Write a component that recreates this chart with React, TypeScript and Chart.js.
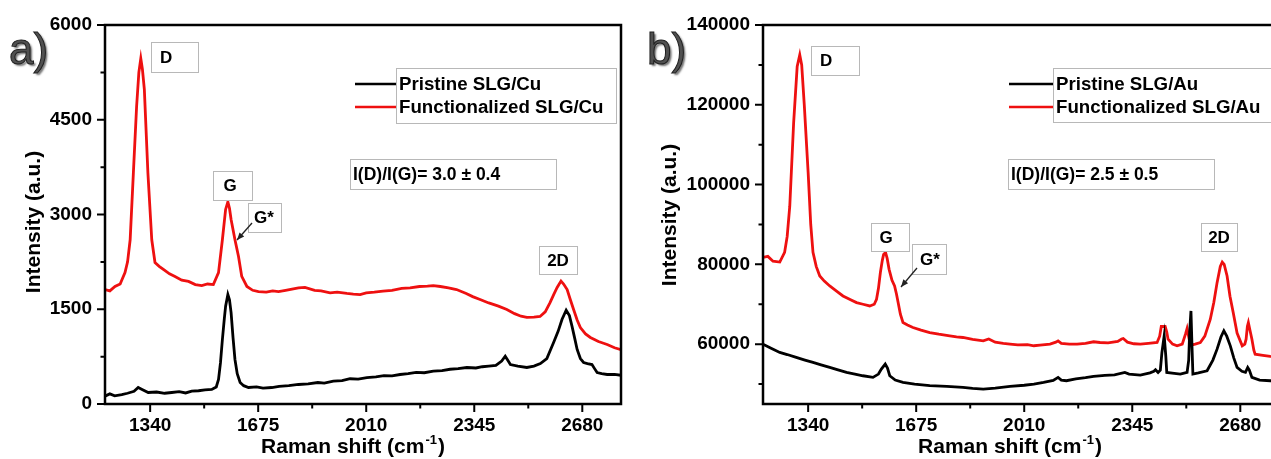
import React, { useEffect, useRef } from "react";
import { Chart, registerables } from "chart.js";

Chart.register(...registerables);

const FONT = '"Liberation Sans", Arial, "DejaVu Sans", sans-serif';

// ---------- tick values ----------
const xTickValues = [1340, 1675, 2010, 2345, 2680];
const xMinorValues = [1507.5, 1842.5, 2177.5, 2512.5];
const aYTickValues = [0, 1500, 3000, 4500, 6000];
const aYMinorValues = [750, 2250, 3750, 5250];
const bYTickValues = [60000, 80000, 100000, 120000, 140000];
const bYMinorValues = [50000, 70000, 90000, 110000, 130000];

// ---------- panel a: SLG/Cu ----------
const aRedX = [1200, 1215, 1231, 1247, 1262, 1270, 1278, 1288, 1298, 1305, 1311, 1316, 1322, 1333, 1345, 1355, 1368, 1381, 1400, 1417, 1438, 1459, 1480, 1500, 1518, 1536, 1552, 1564, 1574, 1581, 1586, 1591, 1603, 1614, 1624, 1640, 1658, 1676, 1700, 1720, 1738, 1760, 1780, 1800, 1820, 1850, 1870, 1898, 1920, 1950, 1970, 1991, 2010, 2035, 2062, 2090, 2120, 2146, 2175, 2200, 2218, 2240, 2265, 2290, 2320, 2340, 2363, 2390, 2420, 2446, 2470, 2490, 2508, 2530, 2549, 2565, 2580, 2592, 2602, 2614, 2622, 2633, 2643, 2653, 2664, 2674, 2690, 2705, 2730, 2757, 2780, 2800];
const aRedY = [1810, 1790, 1860, 1900, 2080, 2250, 2600, 3660, 4710, 5250, 5470, 5300, 4980, 3660, 2600, 2240, 2180, 2130, 2060, 2020, 1960, 1940, 1890, 1875, 1900, 1890, 2080, 2600, 3080, 3200, 3100, 2920, 2600, 2335, 2020, 1860, 1800, 1780, 1770, 1790, 1780, 1800, 1820, 1840, 1845, 1800, 1790, 1760, 1770, 1750, 1740, 1733, 1760, 1770, 1786, 1800, 1830, 1840, 1860, 1865, 1875, 1860, 1840, 1812, 1750, 1700, 1654, 1600, 1550, 1496, 1430, 1390, 1370, 1375, 1385, 1460, 1606, 1740, 1845, 1945, 1900, 1812, 1650, 1496, 1330, 1210, 1110, 1053, 990, 942, 890, 860];

const aBlackX = [1200, 1215, 1230, 1252, 1270, 1290, 1303, 1315, 1334, 1360, 1385, 1407, 1430, 1450, 1469, 1490, 1510, 1531, 1545, 1552, 1558, 1564, 1570, 1574, 1581, 1586, 1591, 1597, 1603, 1610, 1619, 1630, 1645, 1670, 1690, 1717, 1740, 1770, 1800, 1830, 1860, 1880, 1908, 1935, 1960, 1985, 2012, 2040, 2065, 2090, 2115, 2140, 2165, 2190, 2218, 2245, 2270, 2295, 2322, 2350, 2370, 2390, 2412, 2430, 2441, 2448, 2457, 2480, 2508, 2530, 2550, 2570, 2591, 2605, 2617, 2630, 2640, 2648, 2656, 2664, 2674, 2684, 2696, 2710, 2718, 2726, 2740, 2757, 2780, 2800];
const aBlackY = [124, 160, 130, 150, 170, 200, 261, 230, 182, 190, 170, 182, 195, 175, 203, 210, 225, 230, 270, 388, 650, 1021, 1350, 1548, 1733, 1650, 1448, 1050, 705, 480, 340, 290, 261, 270, 250, 261, 280, 290, 309, 320, 340, 330, 361, 370, 400, 395, 419, 430, 450, 445, 467, 480, 500, 495, 519, 530, 550, 560, 578, 570, 590, 600, 610, 680, 757, 700, 625, 600, 578, 600, 640, 720, 973, 1150, 1337, 1485, 1400, 1232, 1050, 863, 720, 657, 640, 625, 560, 498, 480, 467, 470, 455];

// ---------- panel b: SLG/Au ----------
const bRedX = [1200, 1215, 1231, 1252, 1267, 1275, 1283, 1295, 1306, 1314, 1320, 1328, 1340, 1348, 1355, 1365, 1376, 1390, 1407, 1428, 1448, 1470, 1490, 1510, 1531, 1545, 1552, 1558, 1564, 1570, 1574, 1580, 1585, 1591, 1600, 1608, 1614, 1619, 1626, 1634, 1648, 1665, 1690, 1717, 1745, 1779, 1800, 1820, 1850, 1883, 1900, 1920, 1945, 1966, 1990, 2020, 2040, 2059, 2090, 2108, 2115, 2125, 2150, 2174, 2200, 2225, 2245, 2270, 2300, 2312, 2317, 2330, 2350, 2370, 2395, 2422, 2430, 2435, 2447, 2452, 2456, 2470, 2484, 2500, 2510, 2515, 2522, 2528, 2540, 2556, 2570, 2587, 2598, 2608, 2618, 2624, 2630, 2639, 2648, 2658, 2670, 2686, 2694, 2698, 2702, 2705, 2710, 2716, 2722, 2726, 2750, 2773, 2800];
const bRedY = [81750, 82000, 80800, 80580, 83000, 87000, 94580, 115500, 129600, 132500, 130000, 120000, 103000, 90000, 83000, 79500, 77080, 75800, 74580, 73300, 72080, 71200, 70420, 70000, 69580, 70000, 71250, 74000, 78000, 81000, 82500, 83000, 81500, 78750, 76000, 74580, 72500, 70420, 67500, 65420, 64800, 64170, 63500, 62920, 62500, 62080, 61800, 61670, 61200, 60830, 61300, 60500, 60200, 60000, 59800, 59900, 59600, 59750, 60000, 60500, 60830, 60200, 60000, 60000, 60200, 60600, 60420, 60300, 60700, 61300, 61420, 60500, 60100, 60000, 60200, 60420, 62000, 64420, 64420, 63000, 61250, 60000, 59580, 60000, 62500, 63920, 61000, 59750, 60000, 60420, 62000, 66250, 70500, 75420, 79500, 80580, 80000, 77080, 72000, 67920, 62800, 59580, 60000, 61250, 64500, 65420, 63500, 61250, 58500, 57500, 57200, 56920, 56800];

const bBlackX = [1200, 1225, 1252, 1275, 1303, 1330, 1355, 1380, 1407, 1430, 1459, 1485, 1510, 1541, 1558, 1567, 1579, 1586, 1593, 1610, 1634, 1670, 1717, 1770, 1820, 1850, 1883, 1920, 1966, 2010, 2040, 2070, 2100, 2115, 2125, 2141, 2170, 2200, 2225, 2260, 2290, 2322, 2335, 2370, 2400, 2412, 2417, 2425, 2432, 2437, 2444, 2449, 2452, 2475, 2494, 2515, 2520, 2523, 2527, 2530, 2533, 2550, 2577, 2595, 2608, 2620, 2629, 2638, 2649, 2660, 2670, 2685, 2696, 2703, 2708, 2716, 2740, 2773, 2800];
const bBlackY = [60000, 59000, 57920, 57400, 56670, 56000, 55420, 54800, 54170, 53600, 52920, 52500, 52080, 51670, 52500, 53750, 55000, 54000, 52080, 51000, 50420, 50000, 49580, 49400, 49170, 48900, 48750, 49000, 49420, 49700, 50000, 50420, 50900, 51670, 51000, 50830, 51300, 51600, 51920, 52200, 52300, 52920, 52500, 52250, 52800, 53200, 53580, 52900, 53500, 57920, 62080, 57000, 52920, 52700, 52500, 52920, 56000, 63000, 68330, 60000, 52500, 52800, 53330, 56000, 58750, 61800, 63330, 62000, 59580, 56500, 54170, 53200, 52920, 54170, 53500, 51670, 51000, 50830, 50700];

// ---------- texts ----------
const aLegendLabels = ["Pristine SLG/Cu", "Functionalized SLG/Cu"];
const bLegendLabels = ["Pristine SLG/Au", "Functionalized SLG/Au"];
const aRatioText = "I(D)/I(G)= 3.0 \u00B1 0.4";
const bRatioText = "I(D)/I(G)= 2.5 \u00B1 0.5";
const yTitle = "Intensity (a.u.)";
const xTitleMain = "Raman shift (cm";
const xTitleSup = "-1";
const xTitleEnd = ")";

const RED = "#ee1010";
const BLACK = "#000000";

type Box = { text: string; x1: number; y1: number; x2: number; y2: number; tx: number; align: CanvasTextAlign };

type PanelCfg = {
  panelLabel: string;
  offsetX: number;
  canvasW: number;
  yAxisW: number;
  padRight: number;
  yMin: number;
  yMax: number;
  yTicks: number[];
  yMinor: number[];
  black: { x: number; y: number }[];
  red: { x: number; y: number }[];
  labelX: number;
  yTitleX: number;
  yTitleY: number;
  xTitleX: number;
  boxes: Box[];
  arrow: [number, number, number, number];
  legend: { x1: number; y1: number; x2: number; y2: number; lineX1: number; lines: string[] };
  ratio: { x1: number; y1: number; x2: number; y2: number; text: string };
};

const pairs = (xs: number[], ys: number[]) => xs.map((x, i) => ({ x, y: ys[i] }));

const panels: PanelCfg[] = [
  {
    panelLabel: "a)",
    offsetX: 0,
    canvasW: 640,
    yAxisW: 105,
    padRight: 19,
    yMin: 0,
    yMax: 6000,
    yTicks: aYTickValues,
    yMinor: aYMinorValues,
    black: pairs(aBlackX, aBlackY),
    red: pairs(aRedX, aRedY),
    labelX: 9,
    yTitleX: 34,
    yTitleY: 222,
    xTitleX: 353,
    boxes: [
      { text: "D", x1: 151, y1: 42, x2: 198, y2: 72, tx: 160, align: "left" },
      { text: "G", x1: 213, y1: 171, x2: 252, y2: 200, tx: 230, align: "center" },
      { text: "G*", x1: 248, y1: 203, x2: 281, y2: 232, tx: 264, align: "center" },
      { text: "2D", x1: 539, y1: 246, x2: 577, y2: 274, tx: 558, align: "center" },
    ],
    arrow: [252, 223, 237, 240],
    legend: { x1: 396, y1: 68, x2: 616, y2: 123, lineX1: 355, lines: aLegendLabels },
    ratio: { x1: 350, y1: 159, x2: 556, y2: 189, text: aRatioText },
  },
  {
    panelLabel: "b)",
    offsetX: 640,
    canvasW: 660,
    yAxisW: 123,
    padRight: 21,
    yMin: 45000,
    yMax: 140000,
    yTicks: bYTickValues,
    yMinor: bYMinorValues,
    black: pairs(bBlackX, bBlackY),
    red: pairs(bRedX, bRedY),
    labelX: 647,
    yTitleX: 670,
    yTitleY: 215,
    xTitleX: 1010,
    boxes: [
      { text: "D", x1: 811, y1: 46, x2: 859, y2: 75, tx: 820, align: "left" },
      { text: "G", x1: 871, y1: 223, x2: 909, y2: 251, tx: 886, align: "center" },
      { text: "G*", x1: 912, y1: 244, x2: 946, y2: 274, tx: 930, align: "center" },
      { text: "2D", x1: 1201, y1: 223, x2: 1237, y2: 251, tx: 1219, align: "center" },
    ],
    arrow: [917, 268, 901, 287],
    legend: { x1: 1053, y1: 68, x2: 1278, y2: 122, lineX1: 1009, lines: bLegendLabels },
    ratio: { x1: 1008, y1: 159, x2: 1214, y2: 189, text: bRatioText },
  },
];

function makeDecor(cfg: PanelCfg) {
  return {
    id: "decor",
    afterDraw(chart: any) {
      const ctx: CanvasRenderingContext2D = chart.ctx;
      const { left, right, top, bottom } = chart.chartArea;
      const xs = chart.scales.x;
      const ys = chart.scales.y;
      const o = cfg.offsetX;
      ctx.save();

      // frame
      ctx.strokeStyle = "#000";
      ctx.lineWidth = 2.5;
      ctx.strokeRect(left, top, right - left, bottom - top);

      // ticks
      ctx.lineWidth = 2;
      ctx.beginPath();
      for (const v of xTickValues) {
        const p = xs.getPixelForValue(v);
        ctx.moveTo(p, bottom);
        ctx.lineTo(p, bottom + 8);
      }
      for (const v of xMinorValues) {
        const p = xs.getPixelForValue(v);
        ctx.moveTo(p, bottom);
        ctx.lineTo(p, bottom + 4.5);
      }
      for (const v of cfg.yTicks) {
        const p = ys.getPixelForValue(v);
        ctx.moveTo(left, p);
        ctx.lineTo(left - 8, p);
      }
      for (const v of cfg.yMinor) {
        const p = ys.getPixelForValue(v);
        ctx.moveTo(left, p);
        ctx.lineTo(left - 4.5, p);
      }
      ctx.stroke();

      // panel label
      ctx.save();
      ctx.font = `44px ${FONT}`;
      ctx.textAlign = "left";
      ctx.textBaseline = "alphabetic";
      ctx.shadowColor = "rgba(0,0,0,0.55)";
      ctx.shadowOffsetX = 2;
      ctx.shadowOffsetY = 2;
      ctx.shadowBlur = 2;
      ctx.fillStyle = "#505050";
      ctx.fillText(cfg.panelLabel, cfg.labelX - o, 64);
      ctx.shadowColor = "transparent";
      ctx.lineWidth = 1;
      ctx.strokeStyle = "#202020";
      ctx.strokeText(cfg.panelLabel, cfg.labelX - o, 64);
      ctx.restore();

      // y title
      ctx.save();
      ctx.fillStyle = "#000";
      ctx.font = `bold 21px ${FONT}`;
      ctx.translate(cfg.yTitleX - o, cfg.yTitleY);
      ctx.rotate(-Math.PI / 2);
      ctx.textAlign = "center";
      ctx.textBaseline = "middle";
      ctx.fillText(yTitle, 0, 0);
      ctx.restore();

      // x title with superscript
      ctx.save();
      ctx.fillStyle = "#000";
      ctx.textBaseline = "alphabetic";
      ctx.textAlign = "left";
      ctx.font = `bold 21px ${FONT}`;
      const wMain = ctx.measureText(xTitleMain).width;
      const wEnd = ctx.measureText(xTitleEnd).width;
      ctx.font = `bold 13px ${FONT}`;
      const wSup = ctx.measureText(xTitleSup).width;
      const total = wMain + wSup + wEnd + 2;
      let tx = cfg.xTitleX - o - total / 2;
      const base = 453;
      ctx.font = `bold 21px ${FONT}`;
      ctx.fillText(xTitleMain, tx, base);
      tx += wMain + 1;
      ctx.font = `bold 13px ${FONT}`;
      ctx.fillText(xTitleSup, tx, base - 9);
      tx += wSup + 1;
      ctx.font = `bold 21px ${FONT}`;
      ctx.fillText(xTitleEnd, tx, base);
      ctx.restore();

      // annotation boxes
      ctx.save();
      ctx.lineWidth = 1;
      ctx.strokeStyle = "#b8b8b8";
      ctx.fillStyle = "#000";
      ctx.font = `bold 17px ${FONT}`;
      ctx.textBaseline = "middle";
      for (const b of cfg.boxes) {
        ctx.fillStyle = "#fff";
        ctx.fillRect(b.x1 - o, b.y1, b.x2 - b.x1, b.y2 - b.y1);
        ctx.strokeRect(b.x1 - o + 0.5, b.y1 + 0.5, b.x2 - b.x1, b.y2 - b.y1);
        ctx.fillStyle = "#000";
        ctx.textAlign = b.align;
        ctx.fillText(b.text, b.tx - o, (b.y1 + b.y2) / 2 + 1);
      }

      // legend
      const L = cfg.legend;
      ctx.strokeRect(L.x1 - o + 0.5, L.y1 + 0.5, L.x2 - L.x1, L.y2 - L.y1);
      const rowY = [84, 107];
      const colors = [BLACK, RED];
      ctx.lineWidth = 2.5;
      for (let i = 0; i < 2; i++) {
        ctx.strokeStyle = colors[i];
        ctx.beginPath();
        ctx.moveTo(L.lineX1 - o, rowY[i]);
        ctx.lineTo(L.x1 - o, rowY[i]);
        ctx.stroke();
      }
      ctx.font = `bold 18.7px ${FONT}`;
      ctx.textAlign = "left";
      ctx.fillStyle = "#000";
      for (let i = 0; i < 2; i++) {
        ctx.fillText(L.lines[i], L.x1 + 3 - o, rowY[i] + 1);
      }

      // ratio box
      const R = cfg.ratio;
      ctx.lineWidth = 1;
      ctx.strokeStyle = "#b8b8b8";
      ctx.strokeRect(R.x1 - o + 0.5, R.y1 + 0.5, R.x2 - R.x1, R.y2 - R.y1);
      ctx.font = `bold 17.5px ${FONT}`;
      ctx.fillText(R.text, R.x1 + 3 - o, (R.y1 + R.y2) / 2 + 1);
      ctx.restore();

      // arrow
      const [ax1, ay1, ax2, ay2] = cfg.arrow;
      ctx.save();
      ctx.strokeStyle = "#222";
      ctx.fillStyle = "#222";
      ctx.lineWidth = 1.3;
      ctx.beginPath();
      ctx.moveTo(ax1 - o, ay1);
      ctx.lineTo(ax2 - o, ay2);
      ctx.stroke();
      const ang = Math.atan2(ay2 - ay1, ax2 - ax1);
      const hl = 8;
      ctx.beginPath();
      ctx.moveTo(ax2 - o, ay2);
      ctx.lineTo(ax2 - o - hl * Math.cos(ang - 0.4), ay2 - hl * Math.sin(ang - 0.4));
      ctx.lineTo(ax2 - o - hl * Math.cos(ang + 0.4), ay2 - hl * Math.sin(ang + 0.4));
      ctx.closePath();
      ctx.fill();
      ctx.restore();

      ctx.restore();
    },
  };
}

function Panel({ cfg }: { cfg: PanelCfg }) {
  const ref = useRef<HTMLCanvasElement | null>(null);
  useEffect(() => {
    if (!ref.current) return;
    const chart = new Chart(ref.current, {
      type: "line",
      data: {
        datasets: [
          { label: cfg.legend.lines[0], data: cfg.black, borderColor: BLACK, borderWidth: 2.8, pointRadius: 0, tension: 0, fill: false },
          { label: cfg.legend.lines[1], data: cfg.red, borderColor: RED, borderWidth: 2.8, pointRadius: 0, tension: 0, fill: false },
        ],
      },
      options: {
        responsive: false,
        animation: false,
        devicePixelRatio: 1,
        layout: { padding: { left: 0, right: cfg.padRight, top: 25, bottom: 0 } },
        plugins: { legend: { display: false }, tooltip: { enabled: false } },
        events: [],
        scales: {
          x: {
            type: "linear",
            min: 1200,
            max: 2800,
            grid: { display: false, drawTicks: false, tickLength: 0 },
            border: { display: false },
            ticks: {
              color: "#000",
              font: { family: FONT, size: 19, weight: "bold" },
              padding: 10,
              maxRotation: 0,
              autoSkip: false,
              callback: (v: any) => String(v),
            },
            afterBuildTicks: (s: any) => {
              s.ticks = xTickValues.map((v) => ({ value: v }));
            },
            afterFit: (s: any) => {
              s.height = 55;
            },
          },
          y: {
            type: "linear",
            min: cfg.yMin,
            max: cfg.yMax,
            grid: { display: false, drawTicks: false, tickLength: 0 },
            border: { display: false },
            ticks: {
              color: "#000",
              font: { family: FONT, size: 19, weight: "bold" },
              padding: 13,
              autoSkip: false,
              callback: (v: any) => String(v),
            },
            afterBuildTicks: (s: any) => {
              s.ticks = cfg.yTicks.map((v) => ({ value: v }));
            },
            afterFit: (s: any) => {
              s.width = cfg.yAxisW;
            },
          },
        },
      },
      plugins: [makeDecor(cfg)],
    } as any);
    return () => chart.destroy();
  }, [cfg]);
  return (
    <canvas
      ref={ref}
      width={cfg.canvasW}
      height={459}
      style={{ position: "absolute", left: cfg.offsetX, top: 0, width: cfg.canvasW, height: 459 }}
    />
  );
}

export default function App() {
  return (
    <div
      style={{
        position: "fixed",
        left: 0,
        top: 0,
        width: 1271,
        height: 459,
        overflow: "hidden",
        background: "#fff",
      }}
    >
      {panels.map((p) => (
        <Panel key={p.panelLabel} cfg={p} />
      ))}
    </div>
  );
}
